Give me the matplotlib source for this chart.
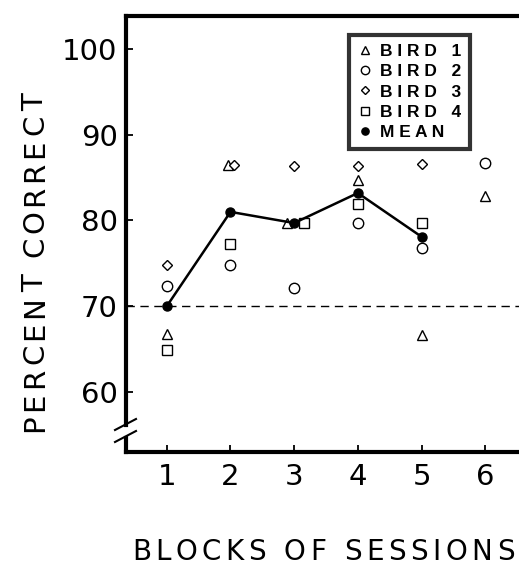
import numpy as np
import matplotlib
matplotlib.use("Agg")
import matplotlib.pyplot as plt
from matplotlib.lines import Line2D
from matplotlib.font_manager import findfont, get_font, FontProperties

plt.rcParams['font.family'] = ['DejaVu Sans']

blocks = [1, 2, 3, 4, 5, 6]
bird1 = [66.8, 86.5, 79.7, 84.7, 66.6, 82.8]
bird2 = [72.3, 74.8, 72.1, 79.7, 76.8, 86.7]
bird3 = [74.8, 86.5, 86.4, 86.4, 86.6, np.nan]
bird4 = [64.9, 77.2, 79.7, 81.9, 79.7, np.nan]
mean_blocks = [1, 2, 3, 4, 5]
mean_vals = [70.0, 81.0, 79.7, 83.2, 78.1]
chance = 70
yticks = [60, 70, 80, 90, 100]

# small sideways nudges so overlapping symbols stay visible
nudge1 = np.array([0, -0.04, -0.11, 0, 0, 0])
nudge3 = np.array([0, 0.06, 0, 0, 0, 0])
nudge4 = np.array([0, 0, 0.16, 0, 0, 0])
x = np.array(blocks, dtype=float)

W, H = 519, 566
fig = plt.figure(figsize=(W / 100, H / 100), dpi=100)
ax = fig.add_axes([126 / W, 1 - 452 / H, 1 - 126 / W, (452 - 15.5) / H])

ax.axhline(chance, color='black', lw=1, ls=(0, (6, 4)), zorder=1)

h1, = ax.plot(x + nudge1, bird1, ls='none', marker='^', ms=6.5, mfc='white', mec='black', mew=1, label='B I R D   1')
h2, = ax.plot(x, bird2, ls='none', marker='o', ms=7.5, mfc='white', mec='black', mew=1, label='B I R D   2')
h3, = ax.plot(x + nudge3, bird3, ls='none', marker='D', ms=5.5, mfc='white', mec='black', mew=1, label='B I R D   3')
h4, = ax.plot(x + nudge4, bird4, ls='none', marker='s', ms=7, mfc='white', mec='black', mew=1, label='B I R D   4')
hm, = ax.plot(mean_blocks, mean_vals, color='black', lw=1.8, marker='o', ms=6.5, mfc='black', mec='black', label='M E A N', zorder=5)

ax.set_xlim(0.36, 6.53)
ax.set_ylim(53.0, 103.9)
ax.set_xticks(blocks)
ax.set_yticks(yticks)
ax.tick_params(direction='in', length=5, width=1.3, labelsize=21, colors='black')
ax.tick_params(axis='y', pad=6)
ax.tick_params(axis='x', pad=8)

for s in ['top', 'bottom']:
    ax.spines[s].set_linewidth(3)
ax.spines['right'].set_visible(False)
ax.spines['left'].set_visible(False)

# left axis with a break near the bottom
brk_top = (452 - 425) / (452 - 15.5)
brk_bot = (452 - 438) / (452 - 15.5)
ax.axvline(0.36, ymin=brk_top, ymax=1.0, color='black', lw=3, clip_on=False, solid_capstyle='projecting')
ax.axvline(0.36, ymin=0.0, ymax=brk_bot, color='black', lw=3, clip_on=False, solid_capstyle='projecting')
for yy in [430, 442]:
    fig.add_artist(Line2D([115 / W, 136 / W], [1 - yy / H, 1 - (yy - 11) / H], color='black', lw=1.5))

leg = ax.legend(handles=[h1, h2, h3, h4, hm], loc='upper left',
                bbox_to_anchor=(349 / W, 1 - 35 / H), bbox_transform=fig.transFigure,
                frameon=True, fancybox=False, handlelength=0.8,
                handletextpad=0.5, labelspacing=0.3, borderpad=0.5, borderaxespad=0,
                markerscale=0.8, prop={'family': 'Liberation Sans', 'weight': 'bold', 'size': 12.5})
leg.get_frame().set_edgecolor('black')
leg.get_frame().set_linewidth(3)
for lh in leg.legend_handles:
    lh.set_linestyle('none')


def spaced_text(s, x0, y0, size, gap, vertical=False):
    # draw a label letter by letter with extra spacing (pixels)
    font = get_font(findfont(FontProperties(family='DejaVu Sans')))
    font.set_size(size, 100)
    pos = 0.0
    for ch in s:
        g = font.load_char(ord(ch))
        adv = g.linearHoriAdvance / 65536
        if ch != ' ':
            if vertical:
                fig.text(x0 / W, 1 - (y0 - pos) / H, ch, rotation=90, ha='left', va='baseline',
                         fontsize=size, rotation_mode='anchor')
            else:
                fig.text((x0 + pos) / W, 1 - y0 / H, ch, ha='left', va='baseline', fontsize=size)
        pos += adv + gap


spaced_text('PERCENT CORRECT', 43, 432, 21, 3.9, vertical=True)
spaced_text('BLOCKS OF SESSIONS', 132, 560, 20, 4.5)

fig.savefig('out.png', dpi=100)
